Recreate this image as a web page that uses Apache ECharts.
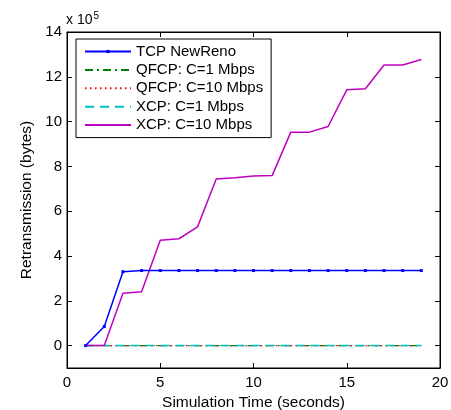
<!DOCTYPE html>
<html><head><meta charset="utf-8">
<script src="https://cdn.jsdelivr.net/npm/echarts@6/dist/echarts.min.js"></script>
<style>html,body{margin:0;padding:0;background:#fff}#c{width:451px;height:410px}</style>
</head><body><div id="c"></div>
<script>
// time in seconds; retransmission in units of 1e5 bytes
const times = [1,2,3,4,5,6,7,8,9,10,11,12,13,14,15,16,17,18,19];
const tcpNewReno = [0,0.85,3.3,3.35,3.35,3.35,3.35,3.35,3.35,3.35,3.35,3.35,3.35,3.35,3.35,3.35,3.35,3.35,3.35];
const qfcp1 = [0,0,0,0,0,0,0,0,0,0,0,0,0,0,0,0,0,0,0];
const qfcp10 = [0,0,0,0,0,0,0,0,0,0,0,0,0,0,0,0,0,0,0];
const xcp1 = [0,0,0,0,0,0,0,0,0,0,0,0,0,0,0,0,0,0,0];
const xcp10 = [0,0,2.34,2.4,4.7,4.77,5.3,7.44,7.49,7.57,7.59,9.53,9.53,9.78,11.42,11.47,12.53,12.53,12.77];
const seriesNames = ['TCP NewReno','QFCP: C=1 Mbps','QFCP: C=10 Mbps','XCP: C=1 Mbps','XCP: C=10 Mbps'];
const xTicks = [0,5,10,15,20];
const yTicks = [0,2,4,6,8,10,12,14];

const FONT = 'Liberation Sans, Arial, sans-serif';
const pair = arr => times.map((t,i)=>[t,arr[i]]);
const chart = echarts.init(document.getElementById('c'));
const tickStyle = {show:true, inside:true, length:5, lineStyle:{color:'#000'}};
chart.setOption({
  animation:false,
  backgroundColor:'#fff',
  grid:{left:67,right:11,top:32,bottom:42,show:true,borderColor:'#000',borderWidth:1,outerBoundsMode:'none',containLabel:false},
  graphic:[{type:'text',left:66,top:11,style:{text:'{a|x 10}{b|5}',rich:{a:{fontSize:14,fontFamily:FONT,fill:'#000'},b:{fontSize:10,fontFamily:FONT,fill:'#000',verticalAlign:'top',padding:[0,0,8,1]}}}}],
  legend:{
    orient:'vertical',left:76,top:39,
    data:seriesNames.map((n,i)=>({name:n,itemStyle:{opacity:i===0?1:0}})),
    backgroundColor:'#fff',borderColor:'#000',borderWidth:1,borderRadius:0,
    padding:[5,8,5,8],itemWidth:46,itemHeight:4,itemGap:3.4,
    textStyle:{fontSize:15,fontFamily:FONT,color:'#000'}
  },
  xAxis:[{
    type:'value',min:0,max:20,interval:5,
    axisLine:{show:true,onZero:false,lineStyle:{color:'#000'}},
    axisTick:Object.assign({customValues:xTicks},tickStyle),
    axisLabel:{customValues:xTicks,fontSize:15,fontFamily:FONT,color:'#000',margin:7},
    splitLine:{show:false},
    name:'Simulation Time (seconds)',nameLocation:'middle',nameGap:25,
    nameTextStyle:{fontSize:15.5,fontFamily:FONT,color:'#000'}
  },{
    type:'value',position:'top',min:0,max:20,interval:5,
    axisLine:{show:true,onZero:false,lineStyle:{color:'#000'}},
    axisTick:Object.assign({customValues:xTicks},tickStyle),
    axisLabel:{show:false},splitLine:{show:false}
  }],
  yAxis:[{
    type:'value',min:-1,max:14,
    axisLine:{show:true,onZero:false,lineStyle:{color:'#000'}},
    axisTick:Object.assign({customValues:yTicks},tickStyle),
    axisLabel:{customValues:yTicks,fontSize:15,fontFamily:FONT,color:'#000',margin:5},
    splitLine:{show:false},
    name:'Retransmission (bytes)',nameLocation:'middle',nameGap:31,
    nameTextStyle:{fontSize:15.5,fontFamily:FONT,color:'#000'}
  },{
    type:'value',position:'right',min:-1,max:14,
    axisLine:{show:true,onZero:false,lineStyle:{color:'#000'}},
    axisTick:Object.assign({customValues:yTicks},tickStyle),
    axisLabel:{show:false},splitLine:{show:false}
  }],
  series:[
    {name:seriesNames[1],type:'line',data:pair(qfcp1),symbol:'none',z:3,
      lineStyle:{color:'#008000',width:1.3,type:[8,4,2,4]},itemStyle:{color:'#008000'}},
    {name:seriesNames[2],type:'line',data:pair(qfcp10),symbol:'none',z:4,
      lineStyle:{color:'#ff0000',width:1.3,type:[1.5,3.5]},itemStyle:{color:'#ff0000'}},
    {name:seriesNames[3],type:'line',data:pair(xcp1),symbol:'none',z:5,
      lineStyle:{color:'#00bfbf',width:1.5,type:[9,6]},itemStyle:{color:'#00bfbf'}},
    {name:seriesNames[4],type:'line',data:pair(xcp10),symbol:'none',z:6,
      lineStyle:{color:'#bf00bf',width:1.5},itemStyle:{color:'#bf00bf'}},
    {name:seriesNames[0],type:'line',data:pair(tcpNewReno),symbol:'rect',symbolSize:3,showSymbol:true,z:7,
      lineStyle:{color:'#0000ff',width:1.5},itemStyle:{color:'#0000ff'}}
  ]
});
</script></body></html>
